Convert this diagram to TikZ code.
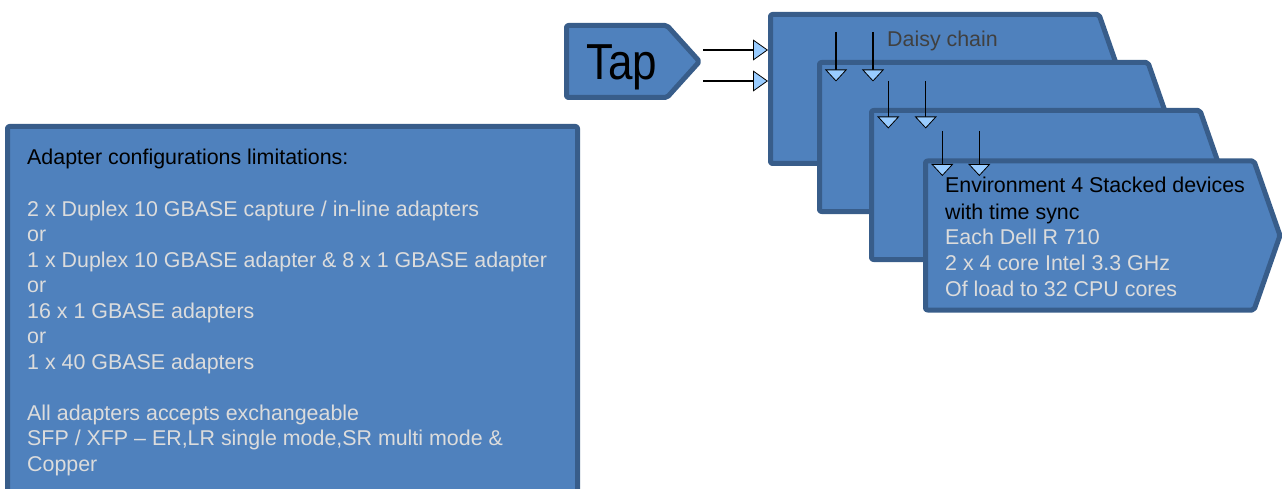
\documentclass[tikz,border=0pt]{standalone}
\usepackage{fontspec}
\setmainfont{Liberation Sans}
\usetikzlibrary{arrows.meta}
\definecolor{boxfill}{HTML}{4F81BD}
\definecolor{boxline}{HTML}{385D8A}
\definecolor{lighttext}{HTML}{DCDCDC}
\definecolor{greytext}{HTML}{404040}
\definecolor{tipfill}{HTML}{99CCFF}

% one stacked device panel: name, outer left, outer top
\newcommand\devicepanel[3]{%
  \draw[panel] (#2+2.5,#3+2.5) -- (#2+331,#3+2.5) -- (#2+357,#3+77)
    -- (#2+331,#3+151.5) -- (#2+2.5,#3+151.5) -- cycle;
  \coordinate (#1) at (#2,#3);}

\begin{document}
\begin{tikzpicture}[x=1pt,y=-1pt,
  panel/.style={draw=boxline, fill=boxfill, line width=5pt,
    rounded corners=2pt, line join=round},
  txt/.style={anchor=base west, inner sep=0pt,
    font=\fontsize{21.4}{25.6}\selectfont},
  feed/.style={draw=black, line width=1.2pt,
    -{Triangle[length=15pt,width=21pt,fill=tipfill,line width=0.8pt]}},
  chain/.style={draw=black, line width=1.2pt,
    -{Triangle[length=12pt,width=22pt,fill=tipfill,line width=0.8pt]}}]
\useasboundingbox (0,0) rectangle (1284,489);

% adapter notes panel (runs off the lower edge)
\draw[panel] (7.5,500) -- (7.5,126.5) -- (577.5,126.5) -- (577.5,500) -- cycle;
\node[txt, text=black] (n0) at (27,165) {Adapter configurations limitations:};
\node[txt, text=lighttext] (n1) at (27,216) {2 x Duplex 10 GBASE capture / in-line adapters};
\node[txt, text=lighttext] (n2) at (27,241.5) {or};
\node[txt, text=lighttext] (n3) at (27,267) {1 x Duplex 10 GBASE adapter \& 8 x 1 GBASE adapter};
\node[txt, text=lighttext] (n4) at (27,292.5) {or};
\node[txt, text=lighttext] (n5) at (27,318) {16 x 1 GBASE adapters};
\node[txt, text=lighttext] (n6) at (27,343.5) {or};
\node[txt, text=lighttext] (n7) at (27,369) {1 x 40 GBASE adapters};
\node[txt, text=lighttext] (n8) at (27,420) {All adapters accepts exchangeable};
\node[txt, text=lighttext] (n9) at (27,445.5) {SFP / XFP -- ER,LR single mode,SR multi mode \&};
\node[txt, text=lighttext] (n10) at (27,471) {Copper};

% tap
\draw[panel] (566.5,25.5) -- (667,25.5) -- (699.5,61.5) -- (667,97.5)
  -- (566.5,97.5) -- cycle;
\node[anchor=base west, inner sep=0pt, font=\fontsize{44}{50}\selectfont]
  (tap) at (586,80) {\scalebox{1}[1.15]{Tap}};

% stacked devices
\devicepanel{dev1}{768}{12}
\devicepanel{dev2}{817}{60}
\devicepanel{dev3}{869}{108}
\devicepanel{dev4}{923}{158.5}

\node[txt, text=greytext] (daisy) at (887,46.5) {Daisy chain};

\node[txt, text=black] (e1) at (945,193) {Environment 4 Stacked devices};
\node[txt, text=black] (e2) at (945,219) {with time sync};
\node[txt, text=lighttext] (e3) at (945,244.5) {Each Dell R 710};
\node[txt, text=lighttext] (e4) at (945,270) {2 x 4 core Intel 3.3 GHz};
\node[txt, text=lighttext] (e5) at (945,296) {Of load to 32 CPU cores};

% tap outputs into the first device
\coordinate (tapA) at (703,50);
\coordinate (tapB) at (703,81);
\coordinate (inA) at (768,50);
\coordinate (inB) at (768,81);
\draw[feed] (tapA) -- (inA);
\draw[feed] (tapB) -- (inB);

% daisy chain links between devices
\coordinate (c1a) at (836,32);   \coordinate (c1a') at (836,81.5);
\coordinate (c1b) at (873,32);   \coordinate (c1b') at (873,81.5);
\coordinate (c2a) at (888.3,81); \coordinate (c2a') at (888.3,128.5);
\coordinate (c2b) at (925.7,81); \coordinate (c2b') at (925.7,128.5);
\coordinate (c3a) at (942.3,131); \coordinate (c3a') at (942.3,176);
\coordinate (c3b) at (979.3,131); \coordinate (c3b') at (979.3,176);
\draw[chain] (c1a) -- (c1a');
\draw[chain] (c1b) -- (c1b');
\draw[chain] (c2a) -- (c2a');
\draw[chain] (c2b) -- (c2b');
\draw[chain] (c3a) -- (c3a');
\draw[chain] (c3b) -- (c3b');
\end{tikzpicture}
\end{document}
